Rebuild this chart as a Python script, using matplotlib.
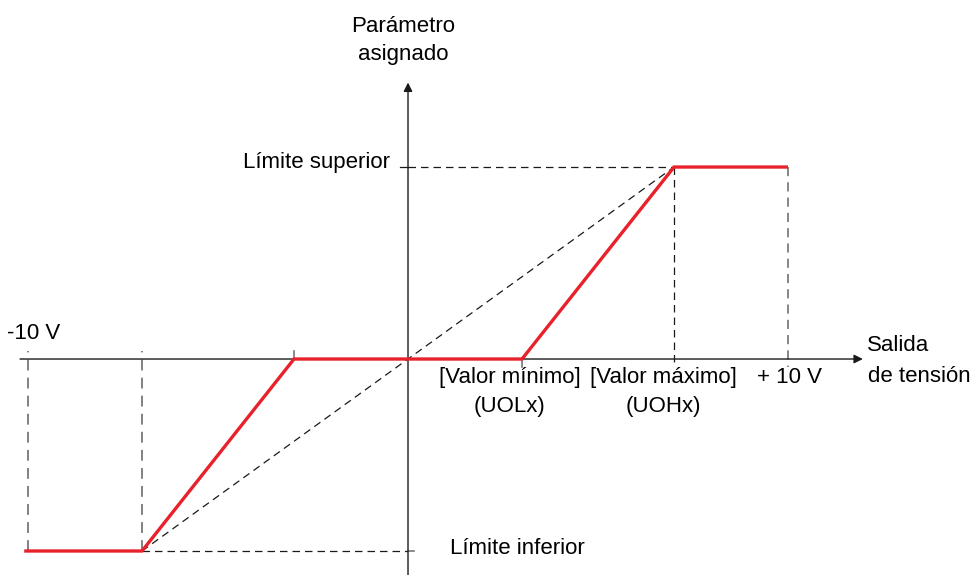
import matplotlib.pyplot as plt

plt.rcParams['font.family'] = ['Liberation Sans', 'DejaVu Sans']

# curve: output voltage (V) -> assigned parameter (lower limit = -1, upper = +1)
curve_v = [-10.1, -7, -3, 3, 7, 10]
curve_p = [-1, -1, 0, 0, 1, 1]

# reference points on the voltage axis
v_min, v_max = 3, 7
v_low, v_high = -10, 10
p_low, p_high = -1, 1

fig = plt.figure(figsize=(9.72, 5.75), dpi=100)
ax = fig.add_axes([0, 0, 1, 1])
ax.set_xlim(-10.737, 14.842)
ax.set_ylim(-1.125, 1.870)
ax.axis("off")

ink = "#1a1a1a"

# axes with arrows
ax.annotate("", xy=(11.97, 0), xytext=(-10.21, 0),
            arrowprops=dict(arrowstyle="-|>", mutation_scale=13, lw=1, color=ink,
                            shrinkA=0, shrinkB=0))
ax.annotate("", xy=(0, 1.44), xytext=(0, -1.125),
            arrowprops=dict(arrowstyle="-|>", mutation_scale=13, lw=1, color=ink,
                            shrinkA=0, shrinkB=0))

# dashed helper lines
dash = dict(color=ink, lw=0.9, linestyle=(0, (6, 4)))
ax.plot([-v_max, v_max], [p_low, p_high], **dash)
ax.plot([0, v_max], [p_high, p_high], **dash)
ax.plot([-v_max, 0], [p_low, p_low], **dash)
ax.plot([v_max, v_max], [p_high, -0.04], **dash)
ax.plot([v_high, v_high], [p_high, -0.04], color="#666666", lw=1.1, linestyle=(0, (6, 4)))
ax.plot([v_low, v_low], [p_low, 0.04], color="#777777", lw=1.3, linestyle=(0, (6, 4)))
ax.plot([-v_max, -v_max], [p_low, 0.04], color="#777777", lw=1.3, linestyle=(0, (6, 4)))

# small ticks
ax.plot([-0.2, 0], [p_high, p_high], color=ink, lw=0.9)
ax.plot([0, 0.15], [p_low, p_low], color="#777777", lw=1.2)
ax.plot([-v_min, -v_min], [0, 0.04], color="#777777", lw=1.2)
ax.plot([v_min, v_min], [0, -0.04], color="#777777", lw=1.2)

# red characteristic
ax.plot(curve_v, curve_p, color="#e8212b", lw=2.4, solid_joinstyle="miter",
        solid_capstyle="butt", zorder=5)

fs = 16
ax.text(-0.12, 1.703, "Parámetro", ha="center", va="baseline", fontsize=fs)
ax.text(-0.12, 1.557, "asignado", ha="center", va="baseline", fontsize=fs)
ax.text(-0.47, 0.995, "Límite superior", ha="right", va="baseline", fontsize=fs)
ax.text(1.1, -1.016, "Límite inferior", ha="left", va="baseline", fontsize=fs)
ax.text(-10.55, 0.104, "-10 V", ha="left", va="baseline", fontsize=fs)
ax.text(2.68, -0.125, "[Valor mínimo]", ha="center", va="baseline", fontsize=fs)
ax.text(2.68, -0.276, "(UOLx)", ha="center", va="baseline", fontsize=fs)
ax.text(6.71, -0.125, "[Valor máximo]", ha="center", va="baseline", fontsize=fs)
ax.text(6.71, -0.276, "(UOHx)", ha="center", va="baseline", fontsize=fs)
ax.text(10.05, -0.125, "+ 10 V", ha="center", va="baseline", fontsize=fs)
ax.text(12.08, 0.042, "Salida", ha="left", va="baseline", fontsize=fs)
ax.text(12.1, -0.12, "de tensión", ha="left", va="baseline", fontsize=fs)

fig.savefig("out.png", dpi=100, facecolor="white")
